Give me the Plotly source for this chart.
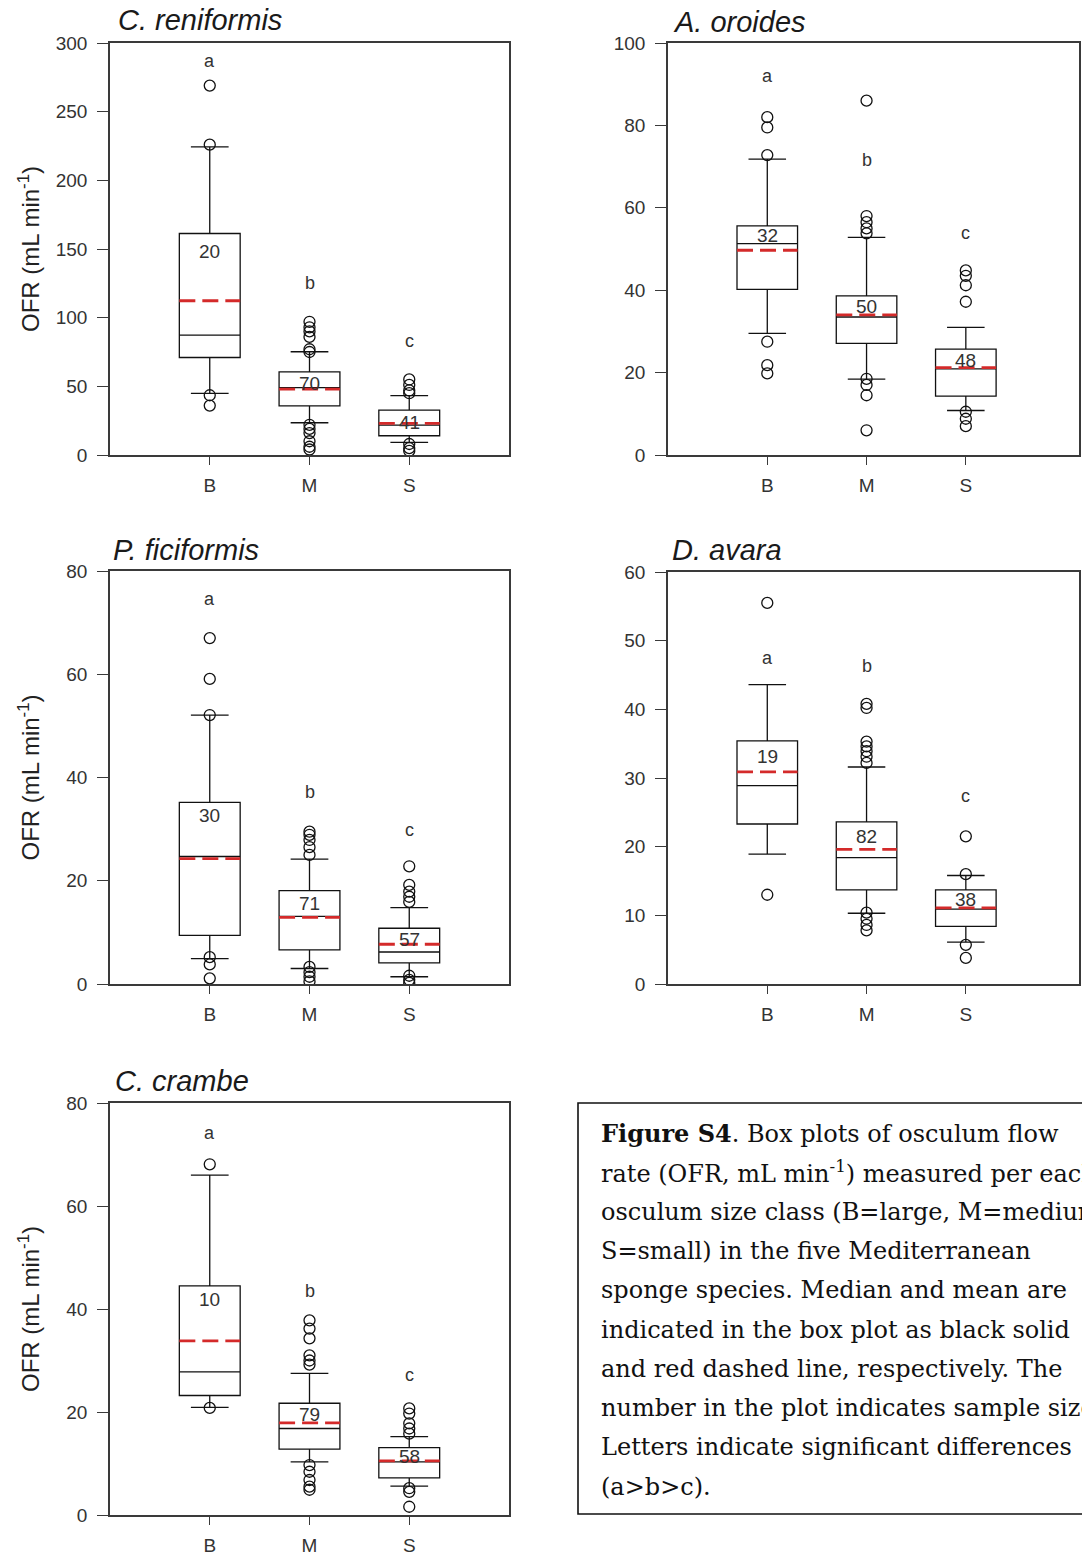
import plotly.graph_objects as go

W, H = 1082, 1557

species = ["C. reniformis", "A. oroides", "P. ficiformis", "D. avara", "C. crambe"]
categories = ["B", "M", "S"]
y_max = [300, 100, 80, 60, 80]
y_step = [50, 20, 20, 10, 20]

# C. reniformis
ren_q1 = [71.0, 35.7, 14.0]
ren_median = [87.3, 49.0, 21.8]
ren_q3 = [161.3, 60.5, 32.7]
ren_lower = [44.9, 23.5, 9.2]
ren_upper = [224.3, 75.2, 43.2]
ren_mean = [112.3, 48.0, 23.0]
ren_n = [20, 70, 41]
ren_letter_y = [287, 125, 83]
ren_n_y = [148.5, 52, 24]
ren_out = [[269, 226, 43.5, 36], [97, 93, 90, 86, 77, 75, 22, 19, 16, 10, 6, 4], [55, 51, 47, 45, 8, 5, 3]]

# A. oroides
oro_q1 = [40.2, 27.1, 14.3]
oro_median = [51.3, 33.5, 20.9]
oro_q3 = [55.6, 38.6, 25.7]
oro_lower = [29.5, 18.4, 10.8]
oro_upper = [71.8, 52.8, 31.0]
oro_mean = [49.7, 34.0, 21.2]
oro_n = [32, 50, 48]
oro_letter_y = [91.9, 71.5, 53.8]
oro_n_y = [53.2, 36, 23]
oro_out = [[82, 79.5, 72.8, 27.5, 21.8, 19.8], [86, 58, 56.5, 55, 53.8, 18.5, 17, 14.5, 6], [44.8, 43.5, 41.2, 37.2, 10.5, 8.8, 7]]

# P. ficiformis
fic_q1 = [9.4, 6.6, 4.1]
fic_median = [24.7, 13.1, 6.2]
fic_q3 = [35.2, 18.1, 10.8]
fic_lower = [4.9, 3.0, 1.4]
fic_upper = [52.1, 24.2, 14.8]
fic_mean = [24.3, 12.9, 7.7]
fic_n = [30, 71, 57]
fic_letter_y = [74.6, 37.2, 29.8]
fic_n_y = [32.7, 15.6, 8.7]
fic_out = [[67, 59.1, 52.1, 5.2, 3.8, 1.1], [29.5, 28.9, 27.9, 26.5, 25, 3.3, 2.3, 1.4, 0.5], [22.8, 19.2, 17.9, 16.9, 15.9, 1.6, 0.8, 0.2]]

# D. avara
ava_q1 = [23.3, 13.7, 8.4]
ava_median = [28.9, 18.4, 10.9]
ava_q3 = [35.4, 23.6, 13.7]
ava_lower = [18.9, 10.3, 6.1]
ava_upper = [43.6, 31.6, 15.8]
ava_mean = [30.9, 19.6, 11.1]
ava_n = [19, 82, 38]
ava_letter_y = [47.5, 46.3, 27.4]
ava_n_y = [33.2, 21.5, 12.3]
ava_out = [[55.5, 13.0], [40.8, 40.2, 35.3, 34.6, 33.9, 33.1, 32.2, 10.4, 9.5, 8.6, 7.8], [21.5, 16.0, 5.7, 3.8]]

# C. crambe
cra_q1 = [23.2, 12.8, 7.2]
cra_median = [27.8, 16.8, 10.3]
cra_q3 = [44.5, 21.7, 13.1]
cra_lower = [20.9, 10.3, 5.6]
cra_upper = [66.0, 27.5, 15.2]
cra_mean = [33.8, 17.9, 10.5]
cra_n = [10, 79, 58]
cra_letter_y = [74.1, 43.5, 27.2]
cra_n_y = [41.8, 19.6, 11.4]
cra_out = [[68.1, 20.8], [37.8, 36.2, 34.3, 31, 30, 29.2, 9.7, 8.4, 6.8, 5.5, 4.9], [20.7, 19.7, 17.8, 16.8, 15.8, 5.2, 4.5, 1.6]]

letters = ["a", "b", "c"]

caption_lines = [
    "<b>Figure S4</b>. Box plots of osculum flow",
    "rate (OFR, mL min<sup>-1</sup>) measured per each",
    "osculum size class (B=large, M=medium,",
    "S=small) in the five Mediterranean",
    "sponge species. Median and mean are",
    "indicated in the box plot as black solid",
    "and red dashed line, respectively. The",
    "number in the plot indicates sample size.",
    "Letters indicate significant differences",
    "(a>b>c).",
]

panels = [
    (ren_q1, ren_median, ren_q3, ren_lower, ren_upper, ren_mean, ren_n, ren_letter_y, ren_n_y, ren_out),
    (oro_q1, oro_median, oro_q3, oro_lower, oro_upper, oro_mean, oro_n, oro_letter_y, oro_n_y, oro_out),
    (fic_q1, fic_median, fic_q3, fic_lower, fic_upper, fic_mean, fic_n, fic_letter_y, fic_n_y, fic_out),
    (ava_q1, ava_median, ava_q3, ava_lower, ava_upper, ava_mean, ava_n, ava_letter_y, ava_n_y, ava_out),
    (cra_q1, cra_median, cra_q3, cra_lower, cra_upper, cra_mean, cra_n, cra_letter_y, cra_n_y, cra_out),
]

# ---- layout geometry (pixels) ----
def px(x):
    return x / W

def py(y):
    return 1 - y / H

# (left, right, top, bottom, x_range_max, has_ytitle, title_x, title_y)
geom = [
    (110, 509, 43, 455, 3.0, True, 116, 20),
    (668, 1079, 43, 455, 3.14, False, 671, 22),
    (110, 509, 571, 984, 3.0, True, 111, 550),
    (668, 1079, 572, 984, 3.14, False, 670, 550),
    (110, 509, 1103, 1515, 3.0, True, 113, 1081),
]

FONT = "Liberation Sans, Arial, sans-serif"
AXC = "#3a3a3a"
BOXW = 0.61
xpos = list(range(len(categories)))

fig = go.Figure()
annotations = []
layout_axes = {}

for k, (pdata, g) in enumerate(zip(panels, geom)):
    q1, med, q3, lo, hi, mean, n, let_y, n_y, outs = pdata
    left, right, top, bottom, xmax, has_yt, tx, ty = g
    sfx = "" if k == 0 else str(k + 1)
    xa, ya = "x" + sfx, "y" + sfx

    fig.add_trace(go.Box(
        x=xpos, q1=q1, median=med, q3=q3, lowerfence=lo, upperfence=hi,
        width=BOXW, whiskerwidth=0.62, boxpoints=False,
        fillcolor="rgba(0,0,0,0)", line=dict(color="#111111", width=1.3),
        xaxis=xa, yaxis=ya, showlegend=False, hoverinfo="skip",
    ))
    mx, my = [], []
    for i, m in zip(xpos, mean):
        mx += [i - BOXW / 2, i + BOXW / 2, None]
        my += [m, m, None]
    fig.add_trace(go.Scatter(
        x=mx, y=my, mode="lines", line=dict(color="#d42a2a", width=2.8, dash="16px,7px"),
        xaxis=xa, yaxis=ya, showlegend=False, hoverinfo="skip",
    ))
    ox, oy = [], []
    for i, vals in zip(xpos, outs):
        ox += [i] * len(vals)
        oy += vals
    fig.add_trace(go.Scatter(
        x=ox, y=oy, mode="markers",
        marker=dict(symbol="circle-open", size=11, color="#111111", line=dict(width=1.3)),
        xaxis=xa, yaxis=ya, showlegend=False, hoverinfo="skip",
    ))
    for i in xpos:
        annotations.append(dict(x=i, y=let_y[i], xref=xa, yref=ya, text=letters[i], showarrow=False,
                                font=dict(family=FONT, size=18, color="#333333")))
        annotations.append(dict(x=i, y=n_y[i], xref=xa, yref=ya, text=str(n[i]), showarrow=False,
                                font=dict(family=FONT, size=19, color="#333333")))

    layout_axes["xaxis" + sfx] = dict(
        domain=[px(left), px(right)], anchor=ya, range=[-1, xmax], automargin=False,
        tickvals=xpos, ticktext=categories, ticks="outside", ticklen=8, tickwidth=1.3,
        tickcolor=AXC, showline=True, mirror=True, linecolor=AXC, linewidth=1.6,
        showgrid=False, zeroline=False, ticklabelstandoff=4,
        tickfont=dict(family=FONT, size=19, color="#333333"),
    )
    layout_axes["yaxis" + sfx] = dict(
        domain=[py(bottom), py(top)], anchor=xa, range=[0, y_max[k]], automargin=False,
        tickmode="linear", tick0=0, dtick=y_step[k], ticks="outside", ticklen=11, tickwidth=1.3,
        tickcolor=AXC, showline=True, mirror=True, linecolor=AXC, linewidth=1.6,
        showgrid=False, zeroline=False, ticklabelstandoff=6,
        tickfont=dict(family=FONT, size=19, color="#333333"),
    )
    annotations.append(dict(x=px(tx), y=py(ty), xref="paper", yref="paper", xanchor="left", yanchor="middle",
                            text="<i>" + species[k] + "</i>", showarrow=False,
                            font=dict(family=FONT, size=29, color="#1a1a1a")))
    if has_yt:
        annotations.append(dict(x=px(29), y=py((top + bottom) / 2), xref="paper", yref="paper",
                                xanchor="center", yanchor="middle", textangle=-90,
                                text="OFR (mL min<sup>-1</sup>)", showarrow=False,
                                font=dict(family=FONT, size=24, color="#222222")))

shapes = [dict(type="rect", xref="paper", yref="paper", x0=px(578), x1=px(1110), y0=py(1514), y1=py(1103),
               line=dict(color="#111111", width=1.6), fillcolor="rgba(0,0,0,0)")]
for j, line in enumerate(caption_lines):
    annotations.append(dict(x=px(599), y=py(1133 + j * 39.3), xref="paper", yref="paper",
                            xanchor="left", yanchor="middle", text=line, showarrow=False,
                            font=dict(family="DejaVu Serif, Liberation Serif, serif", size=24, color="#111111")))

fig.update_layout(
    width=W, height=H, margin=dict(l=0, r=0, t=0, b=0, autoexpand=False),
    paper_bgcolor="white", plot_bgcolor="white",
    annotations=annotations, shapes=shapes, **layout_axes,
)

post = (
    "document.documentElement.style.margin='0';document.documentElement.style.padding='0';"
    "document.body.style.margin='0';document.body.style.padding='0';"
)
fig.write_html("out.html", config={"displayModeBar": False}, post_script=post)
